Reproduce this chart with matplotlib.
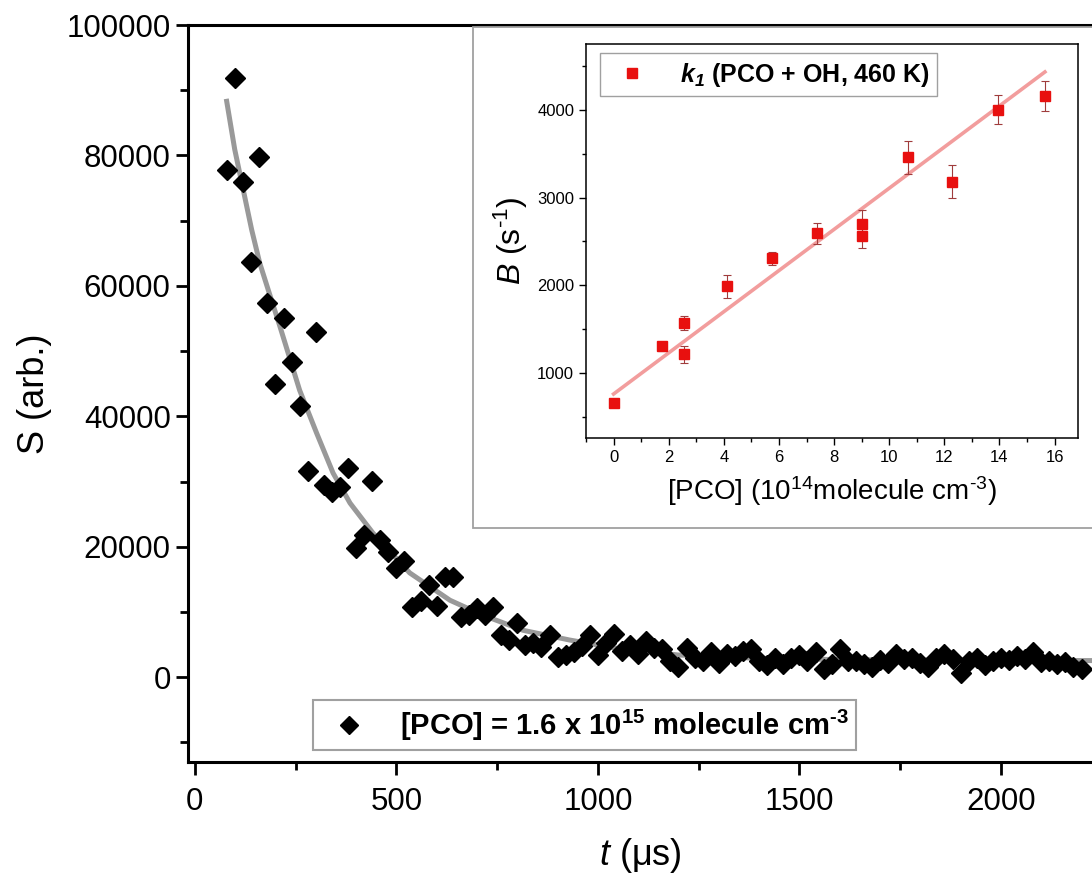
import numpy as np
import matplotlib
matplotlib.use('Agg')
import matplotlib.pyplot as plt
from matplotlib.patches import Rectangle
from matplotlib.ticker import MultipleLocator

plt.rcParams['font.family'] = ['Liberation Sans', 'DejaVu Sans']
plt.rcParams['mathtext.fontset'] = 'custom'
plt.rcParams['mathtext.rm'] = 'Liberation Sans'
plt.rcParams['mathtext.it'] = 'Liberation Sans:italic'
plt.rcParams['mathtext.bf'] = 'Liberation Sans:bold'
plt.rcParams['mathtext.bfit'] = 'Liberation Sans:italic:bold'
plt.rcParams['mathtext.default'] = 'regular'

# decay trace, [PCO] = 1.6e15
t_us = np.arange(80, 2201, 20)
signal = [77700, 91800, 76000, 63700, 79800, 57400, 45000, 55100, 48400, 41600,
          31600, 53000, 29500, 28400, 29200, 32100, 19800, 21800, 30100, 21000,
          19200, 16700, 17800, 10700, 11700, 14100, 10900, 15300, 15300, 9200,
          9500, 10600, 9500, 10700, 6400, 5700, 8300, 4900, 5200, 4600,
          6400, 3100, 3400, 3800, 4800, 6400,
          3400, 5200, 6700, 4000, 5000, 3500, 5500, 4500, 4300, 2500,
          1500, 4500, 3000, 2500, 3800, 2200, 3500, 3300, 4000, 4300,
          2500, 1800, 3000, 2000, 2900, 3400, 2500, 3800, 1200, 2000,
          4300, 2500, 2500, 2000, 1500, 2700, 2200, 3500, 2800, 3000,
          2200, 1500, 3000, 3500, 2800, 700, 2500, 3000, 1800, 2500,
          3000, 2600, 3200, 2800, 3800, 2300, 2500, 2000, 2400, 1600, 1200]

# fitted curve
fit_t = [79, 99, 120, 141, 161, 182, 211, 260, 302, 343, 385, 442, 533, 633,
         715, 814, 930, 1050, 1200, 1400, 1600, 1900, 2230]
fit_s = [88300, 80900, 74750, 68600, 63500, 59400, 53800, 44000, 37450, 31300,
         26700, 22100, 16000, 11800, 9500, 7200, 5700, 4400, 3400, 2900, 2700,
         2600, 2550]

# inset: pseudo-first-order rate vs [PCO]
conc = [0.0, 1.74, 2.54, 2.54, 4.13, 5.76, 7.37, 9.01, 9.01, 10.69, 12.29, 13.96, 15.64]
rate = [660, 1300, 1570, 1210, 1985, 2305, 2590, 2700, 2560, 3460, 3180, 4005, 4160]
rate_err = [30, 50, 80, 100, 135, 75, 120, 155, 140, 190, 190, 170, 170]
lin_conc = [0.0, 15.65]
lin_rate = [757, 4434]

HY = '\u2010'  # plain hyphen in superscripts, like the original

W, H = 1092, 881
fig = plt.figure(figsize=(W / 100, H / 100), dpi=100)

ax = fig.add_axes([188 / W, 1 - 762 / H, 1 - 188 / W, (762 - 25) / H])
ax.plot(fit_t, fit_s, color='#999999', lw=3.6, zorder=2)
ax.plot(t_us, signal, 'D', color='black', ms=10.5, ls='none', zorder=3,
        label='[PCO] = 1.6 x 10$^{15}$ molecule cm$^{' + HY + '3}$')
ax.set_xlim(-17, 2226)
ax.set_ylim(-13000, 100000)
ax.xaxis.set_major_locator(MultipleLocator(500))
ax.xaxis.set_minor_locator(MultipleLocator(250))
ax.yaxis.set_major_locator(MultipleLocator(20000))
ax.yaxis.set_minor_locator(MultipleLocator(10000))
for s in ['left', 'bottom', 'top']:
    ax.spines[s].set_linewidth(2.2)
ax.spines['right'].set_visible(False)
ax.tick_params(which='both', direction='out', width=2, top=False, right=False)
ax.tick_params(which='major', length=9, labelsize=22.5)
ax.tick_params(axis='x', which='major', pad=9)
ax.tick_params(which='minor', length=6)
ax.set_xlabel(r'$\mathit{t}$ (μs)', fontsize=26, labelpad=14)
ax.set_ylabel('S (arb.)', fontsize=26, labelpad=10)
leg = ax.legend(loc='lower left', bbox_to_anchor=(0.138, 0.016), frameon=True,
                fancybox=False, edgecolor='#888888', borderaxespad=0,
                prop={'weight': 'bold', 'size': 21}, markerscale=0.85,
                handletextpad=0.75, borderpad=0.25)
leg.get_frame().set_linewidth(1.5)

# inset frame
fig.patches.append(Rectangle((473 / W, 1 - 528 / H), 1 - 473 / W + 0.01, (528 - 27) / H,
                             transform=fig.transFigure, facecolor='white',
                             edgecolor='#a0a0a0', lw=1.3, zorder=5))

ins = fig.add_axes([586 / W, 1 - 438 / H, (1078 - 586) / W, (438 - 44) / H], zorder=6)
ins.plot(lin_conc, lin_rate, color='#f08c8c', lw=2.6, alpha=0.85, zorder=2)
ins.errorbar(conc, rate, yerr=rate_err, fmt='none', ecolor='#a03c3c',
             elinewidth=0.8, capsize=3, capthick=0.8, zorder=3)
ins.plot(conc, rate, 's', color='#e8100f', ms=7, ls='none', zorder=4,
         label=r'$\mathbfit{k_1}$ (PCO + OH, 460 K)')
ins.set_xlim(-1, 16.85)
ins.set_ylim(255, 4753)
ins.xaxis.set_major_locator(MultipleLocator(2))
ins.xaxis.set_minor_locator(MultipleLocator(1))
ins.yaxis.set_major_locator(MultipleLocator(1000))
ins.yaxis.set_minor_locator(MultipleLocator(500))
for s in ins.spines.values():
    s.set_linewidth(1.1)
ins.tick_params(which='both', direction='out', width=1)
ins.tick_params(which='major', length=5, labelsize=12)
ins.tick_params(which='minor', length=3)
ins.set_xlabel('[PCO] (10$^{14}$molecule cm$^{' + HY + '3}$)', fontsize=20, labelpad=7)
ins.set_ylabel(r'$\mathit{B}$ (s$^{' + HY + '1}$)', fontsize=23, labelpad=5)
ileg = ins.legend(loc='upper left', bbox_to_anchor=(0.028, 0.977), frameon=True,
                  fancybox=False, edgecolor='#888888', borderaxespad=0,
                  prop={'weight': 'bold', 'size': 18}, handletextpad=0.9,
                  borderpad=0.3)
ileg.get_frame().set_linewidth(1.0)

fig.savefig('out.png', dpi=100)
